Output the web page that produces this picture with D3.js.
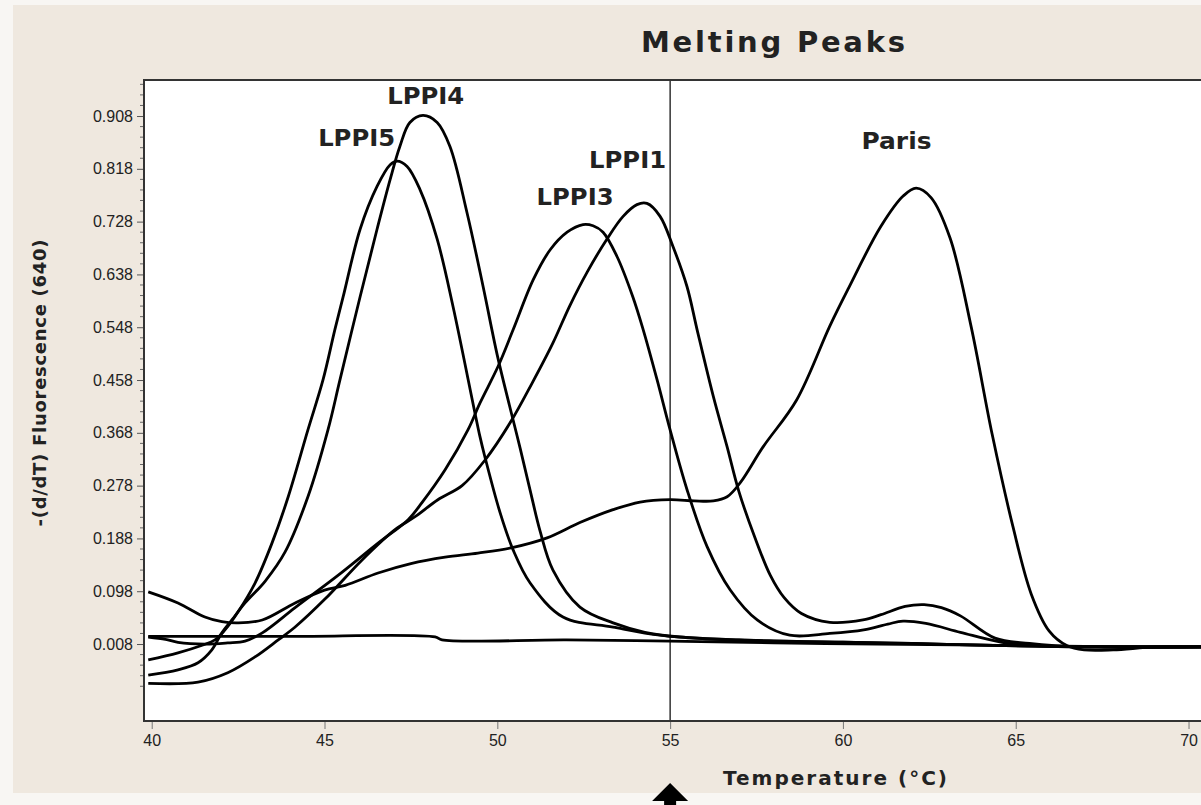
<!DOCTYPE html>
<html>
<head>
<meta charset="utf-8">
<script src="https://cdn.jsdelivr.net/npm/d3@7"></script>
<style>
body { margin: 0; background: #f8f6f3; }
text { font-family: "Liberation Sans", Arial, sans-serif; fill: #222; }
.bold { font-family: "DejaVu Sans", Verdana, sans-serif; font-weight: bold; }
</style>
</head>
<body>
<div id="chart"></div>
<script>

// melting curves, [temperature °C, -(d/dT) fluorescence]
var LPPI5 = [[39.9,-0.019],[40.76,-0.007],[41.46,0.006],[41.83,0.015],[42.12,0.032],[42.5,0.063],[42.99,0.112],[43.48,0.18],[43.95,0.259],[44.52,0.373],[44.96,0.459],[45.3,0.544],[45.54,0.6],[46.03,0.715],[46.52,0.788],[46.9,0.825],[47.1,0.831],[47.39,0.822],[47.76,0.783],[48.26,0.698],[48.72,0.583],[49.5,0.361],[49.65,0.325],[50.08,0.232],[50.46,0.168],[50.95,0.112],[51.9,0.054],[53.35,0.037],[54.71,0.023],[56,0.017],[58,0.013],[60,0.011],[62,0.009],[64,0.006],[66,0.004],[68,0.003],[70.4,0.003]];
var LPPI4 = [[39.9,-0.045],[40.76,-0.036],[41.34,-0.024],[41.74,-0.002],[42.03,0.027],[42.32,0.049],[42.7,0.078],[43.28,0.115],[43.86,0.165],[44.52,0.259],[45.1,0.373],[45.45,0.459],[46.03,0.6],[46.52,0.715],[46.9,0.8],[47.18,0.856],[47.47,0.897],[47.85,0.909],[48.26,0.897],[48.63,0.856],[49.12,0.744],[49.59,0.617],[50.0,0.5],[50.35,0.415],[50.66,0.342],[50.95,0.27],[51.24,0.2],[51.61,0.134],[52.39,0.071],[53.35,0.044],[54.27,0.028],[55.27,0.02],[57,0.015],[60,0.011],[62,0.009],[64,0.006],[66,0.004],[68,0.003],[70.4,0.003]];
var LPPI3 = [[39.9,0.02],[40.4,0.016],[40.76,0.011],[41.54,0.008],[42.2,0.01],[42.7,0.013],[43.2,0.027],[44.15,0.07],[45.39,0.125],[46.55,0.18],[47.42,0.22],[47.82,0.249],[48.49,0.305],[49.15,0.373],[49.5,0.419],[50.02,0.481],[50.46,0.544],[51.04,0.629],[51.53,0.68],[52.02,0.71],[52.48,0.723],[52.77,0.721],[53.06,0.71],[53.46,0.669],[53.92,0.6],[54.22,0.544],[54.62,0.459],[55.0,0.373],[55.49,0.271],[56.07,0.174],[56.74,0.1],[57.52,0.049],[58.46,0.023],[59.62,0.026],[60.6,0.032],[61.3,0.042],[61.74,0.047],[62.4,0.043],[63.4,0.028],[64.6,0.011],[66,0.004],[68,0.003],[70.4,0.003]];
var LPPI1 = [[39.9,-0.059],[41.34,-0.057],[42.2,-0.041],[42.99,-0.014],[43.66,0.015],[44.15,0.037],[45.02,0.085],[46.08,0.151],[47.04,0.203],[47.62,0.225],[48.28,0.254],[48.98,0.278],[49.65,0.322],[50.37,0.385],[51.0,0.452],[51.6,0.52],[52.1,0.585],[52.6,0.642],[53.17,0.698],[53.64,0.737],[54.04,0.757],[54.33,0.759],[54.71,0.737],[55.08,0.686],[55.49,0.617],[55.78,0.544],[56.25,0.43],[56.65,0.344],[56.98,0.27],[57.45,0.19],[57.9,0.125],[58.3,0.087],[58.8,0.06],[59.62,0.045],[60.58,0.049],[61.1,0.058],[61.8,0.072],[62.35,0.075],[62.85,0.07],[63.4,0.056],[64.4,0.018],[65.4,0.009],[67,0.003],[70.4,0.003]];
var PARIS = [[39.9,0.097],[40.76,0.078],[41.54,0.054],[42.03,0.046],[42.5,0.044],[43.2,0.049],[44.15,0.078],[45.0,0.1],[45.6,0.108],[46.55,0.129],[47.5,0.145],[48.49,0.156],[49.44,0.163],[50.4,0.172],[51.44,0.189],[52.39,0.215],[53.35,0.237],[54.13,0.25],[55.0,0.254],[55.7,0.252],[56.25,0.252],[56.65,0.259],[57.03,0.283],[57.69,0.344],[58.66,0.424],[59.62,0.55],[60.14,0.612],[61.1,0.72],[61.75,0.772],[62.12,0.785],[62.55,0.769],[63.1,0.7],[63.71,0.549],[64.32,0.365],[64.92,0.208],[65.45,0.093],[65.97,0.03],[66.49,0.005],[66.98,-0.002],[67.82,-0.002],[69.03,0.003],[70.4,0.003]];
var BLANK = [[39.9,0.021],[44,0.021],[48.2,0.02],[48.4,0.015],[52,0.015],[55,0.013],[58,0.01],[61,0.008],[64,0.006],[67,0.004],[70.4,0.003]];

var SERIES = [LPPI5, LPPI4, LPPI3, LPPI1, PARIS, BLANK];

// peak names, placed in data units [T, v]
var LABEL_NAMES = ['LPPI4', 'LPPI5', 'LPPI3', 'LPPI1', 'Paris'];
var LABEL_AT = [[47.93,0.928],[45.93,0.857],[52.25,0.756],[53.77,0.82],[61.55,0.851]];

var X_TICKS = [40, 45, 50, 55, 60, 65, 70];
var Y_TICKS = [0.008, 0.098, 0.188, 0.278, 0.368, 0.458, 0.548, 0.638, 0.728, 0.818, 0.908];
var CURSOR_T = 55;

var W = 1201, H = 805;
var plot = { left: 144, top: 80, right: 1215, bottom: 721 };

var svg = d3.select('#chart').append('svg')
    .attr('width', W)
    .attr('height', H);

// beige panel
svg.append('rect')
    .attr('x', 13).attr('y', 5)
    .attr('width', W).attr('height', 788)
    .attr('fill', '#efe8df');

var sx = d3.scaleLinear()
    .domain([39.777, 70.766])
    .range([plot.left, plot.right]);
var sy = d3.scaleLinear()
    .domain([-0.1232, 0.9694])
    .range([plot.bottom, plot.top]);

svg.append('rect')
    .attr('x', plot.left).attr('y', plot.top)
    .attr('width', plot.right - plot.left)
    .attr('height', plot.bottom - plot.top)
    .attr('fill', '#fff');

// y axis, major + minor ticks
var ay = d3.axisLeft(sy)
    .tickValues(Y_TICKS)
    .tickSize(7)
    .tickPadding(4)
    .tickFormat(d3.format('.3f'));
var gy = svg.append('g')
    .attr('transform', 'translate(' + plot.left + ',0)')
    .call(ay);
gy.select('.domain').remove();
gy.selectAll('line').attr('stroke', '#555');
gy.selectAll('text')
    .attr('font-size', 16)
    .attr('fill', '#262626')
    .style('font-family', '"Liberation Sans", Arial, sans-serif');

var minor = d3.range(-0.064, 0.97, 0.018).filter(function(v) {
    return Y_TICKS.every(function(t) { return Math.abs(t - v) > 0.004; });
});
svg.append('g').selectAll('line').data(minor).enter()
    .append('line')
    .attr('x1', plot.left - 4).attr('x2', plot.left)
    .attr('y1', function(d) { return sy(d); })
    .attr('y2', function(d) { return sy(d); })
    .attr('stroke', '#666');

// x axis
var ax = d3.axisBottom(sx)
    .tickValues(X_TICKS)
    .tickSize(8)
    .tickPadding(6)
    .tickFormat(d3.format('d'));
var gx = svg.append('g')
    .attr('transform', 'translate(0,' + plot.bottom + ')')
    .call(ax);
gx.select('.domain').remove();
gx.selectAll('line').attr('stroke', '#777');
gx.selectAll('text')
    .attr('font-size', 16)
    .attr('fill', '#262626')
    .style('font-family', '"Liberation Sans", Arial, sans-serif');

// curves
var line = d3.line()
    .x(function(d) { return sx(d[0]); })
    .y(function(d) { return sy(d[1]); })
    .curve(d3.curveCatmullRom.alpha(0.5));

svg.append('defs').append('clipPath').attr('id', 'clip')
    .append('rect')
    .attr('x', plot.left).attr('y', plot.top)
    .attr('width', plot.right - plot.left)
    .attr('height', plot.bottom - plot.top);

svg.append('g').attr('clip-path', 'url(#clip)')
    .selectAll('path').data(SERIES).enter()
    .append('path')
    .attr('d', line)
    .attr('fill', 'none')
    .attr('stroke', '#000')
    .attr('stroke-width', 2.8)
    .attr('stroke-linejoin', 'round');

// cursor at 55
svg.append('line')
    .attr('x1', sx(CURSOR_T)).attr('x2', sx(CURSOR_T))
    .attr('y1', plot.top).attr('y2', plot.bottom)
    .attr('stroke', '#000')
    .attr('stroke-width', 1.2);

// frame
svg.append('path')
    .attr('d', 'M' + plot.right + ',' + plot.top + 'H' + plot.left + 'V' + plot.bottom + 'H' + plot.right)
    .attr('fill', 'none')
    .attr('stroke', '#333')
    .attr('stroke-width', 2);

// peak labels
svg.append('g').selectAll('text').data(LABEL_NAMES).enter()
    .append('text')
    .attr('class', 'bold')
    .attr('x', function(d, i) { return sx(LABEL_AT[i][0]); })
    .attr('y', function(d, i) { return sy(LABEL_AT[i][1]); })
    .attr('text-anchor', 'middle')
    .attr('font-size', 23)
    .attr('fill', '#111')
    .attr('textLength', function(d) { return d == 'Paris' ? 70 : 77; })
    .attr('lengthAdjust', 'spacingAndGlyphs')
    .text(function(d) { return d; });

// titles
svg.append('text')
    .attr('class', 'bold')
    .attr('x', 773).attr('y', 52)
    .attr('text-anchor', 'middle')
    .attr('font-size', 29)
    .attr('fill', '#222')
    .attr('textLength', 264)
    .attr('lengthAdjust', 'spacing')
    .text('Melting Peaks');

svg.append('text')
    .attr('class', 'bold')
    .attr('x', 835).attr('y', 785)
    .attr('text-anchor', 'middle')
    .attr('font-size', 20)
    .attr('textLength', 224)
    .attr('lengthAdjust', 'spacing')
    .text('Temperature (\u00b0C)');

svg.append('text')
    .attr('class', 'bold')
    .attr('transform', 'translate(46,383) rotate(-90)')
    .attr('text-anchor', 'middle')
    .attr('font-size', 18)
    .attr('textLength', 287)
    .attr('lengthAdjust', 'spacing')
    .text('-(d/dT) Fluorescence (640)');

// arrow under the cursor
var ac = sx(CURSOR_T);
svg.append('path')
    .attr('d', 'M' + ac + ',783 L' + (ac + 18) + ',801 L' + (ac + 6) + ',801 L' + (ac + 6) + ',806 L' + (ac - 6) + ',806 L' + (ac - 6) + ',801 L' + (ac - 18) + ',801 Z')
    .attr('fill', '#000');

</script>
</body>
</html>
